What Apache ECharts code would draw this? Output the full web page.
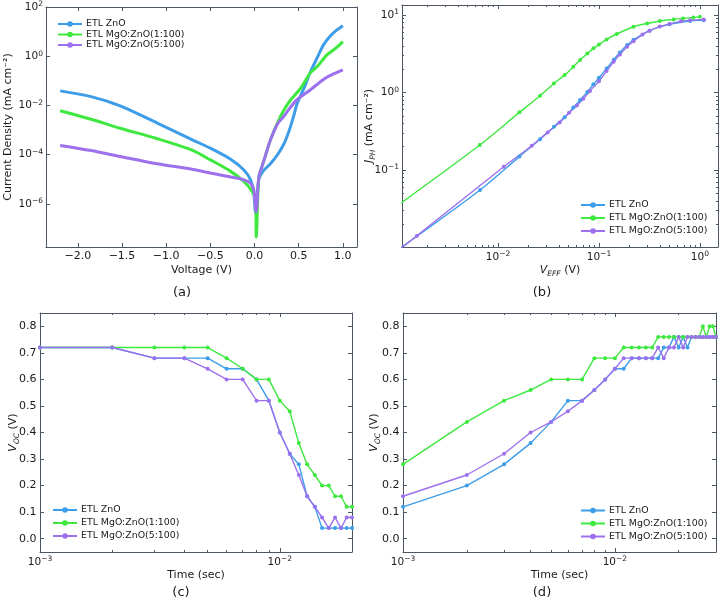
<!DOCTYPE html>
<html><head><meta charset="utf-8">
<script src="https://cdn.jsdelivr.net/npm/echarts@6/dist/echarts.min.js"></script>
<style>html,body{margin:0;padding:0;background:#fff}#c{width:723px;height:603px}</style>
</head><body><div id="c"></div>
<script>
const seriesNames = ['ETL ZnO', 'ETL MgO:ZnO(1:100)', 'ETL MgO:ZnO(5:100)'];
const colors = ['#3d9de8', '#3fe83f', '#9d70ee'];

// (a) J-V (voltage V, current density mA cm^-2)
const aVoltZnO = [-2.2,-1.85,-1.52,-1.1,-0.72,-0.5,-0.27,-0.12,-0.045,-0.008,0.011,0.049,0.1,0.18,0.26,0.33,0.37,0.41,0.45,0.48,0.56,0.63,0.71,0.78,0.86,0.93,1.0];
const aJZnO = [0.040,0.0234,0.0098,0.00195,4.3e-4,1.86e-4,6.6e-5,2.4e-5,9.5e-6,2.7e-6,4.6e-7,1.0e-5,2.2e-5,4.3e-5,1.0e-4,2.6e-4,5.8e-4,1.5e-3,4.6e-3,0.0115,0.051,0.224,0.9,2.95,7.1,12.0,18.2];
const aVoltMg1 = [-2.2,-1.85,-1.52,-1.1,-0.72,-0.5,-0.27,-0.12,-0.027,0.011,0.02,0.049,0.087,0.13,0.18,0.26,0.33,0.41,0.52,0.63,0.71,0.82,0.92,1.0];
const aJMg1 = [6.2e-3,2.8e-3,1.2e-3,4.5e-4,1.6e-4,6.2e-5,2.1e-5,8.1e-6,3.2e-6,1.45e-6,4.4e-8,1.26e-5,3.5e-5,1.1e-4,4.0e-4,2.0e-3,6.3e-3,0.0174,0.05,0.21,0.39,1.17,2.19,4.07];
const aVoltMg5 = [-2.2,-1.85,-1.52,-1.1,-0.72,-0.5,-0.27,-0.12,-0.045,-0.008,0.019,0.049,0.087,0.13,0.18,0.26,0.33,0.41,0.48,0.63,0.8,0.9,1.0];
const aJMg5 = [2.4e-4,1.48e-4,8.5e-5,4.3e-5,2.6e-5,1.8e-5,1.23e-5,9.5e-6,6.9e-6,3.7e-6,4.7e-7,1.26e-5,3.5e-5,1.1e-4,4.0e-4,1.8e-3,3.6e-3,8.9e-3,0.0174,0.0437,0.132,0.2,0.288];

// (b) Jph vs Veff
const bVeffZnO = [0.0011,0.00664,0.0163,0.0261,0.0358,0.0457,0.0557,0.065,0.0767,0.088,0.1,0.119,0.14,0.161,0.19,0.22,0.317,0.5,0.8,1.09];
const bJZnO = [0.0100,0.0552,0.149,0.249,0.362,0.48,0.64,0.8,1.02,1.28,1.55,2.05,2.65,3.3,4.1,4.8,6.3,7.6,8.4,8.6];
const bVeffMg1 = [0.0011,0.0066,0.0163,0.0261,0.0358,0.0457,0.0557,0.065,0.0767,0.0882,0.1,0.119,0.15,0.22,0.3,0.4,0.55,0.68,0.86,1.0];
const bJMg1 = [0.0376,0.21,0.555,0.91,1.31,1.68,2.15,2.63,3.2,3.72,4.17,4.85,5.7,7.07,7.8,8.4,8.8,9.06,9.33,9.5];
const bVeffMg5 = [0.0011,0.00157,0.0114,0.0216,0.031,0.0408,0.0506,0.0604,0.07,0.0815,0.1,0.119,0.14,0.161,0.19,0.22,0.27,0.317,0.4,0.5,0.65,0.8,1.09];
const bJMg5 = [0.0098,0.0141,0.110,0.206,0.306,0.41,0.55,0.68,0.83,1.05,1.4,1.9,2.5,3.1,3.9,4.6,5.6,6.3,7.1,7.7,8.3,8.6,8.8];

// (c) Voc decay
const cTime = [0.001,0.002,0.003,0.004,0.005,0.006,0.007,0.008,0.009,0.010,0.011,0.012,0.013,0.014,0.015,0.016,0.017,0.018,0.019,0.020];
const cZnO = [0.72,0.72,0.68,0.68,0.68,0.64,0.64,0.60,0.52,0.40,0.32,0.28,0.16,0.12,0.04,0.04,0.04,0.04,0.04,0.04];
const cMg1 = [0.72,0.72,0.72,0.72,0.72,0.68,0.64,0.60,0.60,0.52,0.48,0.36,0.28,0.24,0.20,0.20,0.16,0.16,0.12,0.12];
const cMg5 = [0.72,0.72,0.68,0.68,0.64,0.60,0.60,0.52,0.52,0.40,0.32,0.24,0.16,0.12,0.08,0.04,0.08,0.04,0.08,0.08];

// (d) Voc rise
const dTime = [0.001,0.002,0.003,0.004,0.005,0.006,0.007,0.008,0.009,0.010,0.011,0.012,0.013,0.014,0.015,0.016,0.017,0.018,0.019,0.020,0.021,0.022,0.023,0.024,0.025,0.026,0.027,0.028,0.029,0.030];
const dZnO = [0.12,0.20,0.28,0.36,0.44,0.52,0.52,0.56,0.60,0.64,0.64,0.68,0.68,0.68,0.68,0.68,0.72,0.72,0.76,0.72,0.76,0.72,0.76,0.76,0.76,0.76,0.76,0.76,0.76,0.76];
const dMg1 = [0.28,0.44,0.52,0.56,0.60,0.60,0.60,0.68,0.68,0.68,0.72,0.72,0.72,0.72,0.72,0.76,0.76,0.76,0.76,0.76,0.76,0.76,0.76,0.76,0.76,0.80,0.76,0.80,0.80,0.76];
const dMg5 = [0.16,0.24,0.32,0.40,0.44,0.48,0.52,0.56,0.60,0.64,0.68,0.68,0.68,0.68,0.68,0.72,0.68,0.72,0.72,0.76,0.72,0.76,0.76,0.76,0.76,0.76,0.76,0.76,0.76,0.76];

// tick values
const aXTicks = [-2.0,-1.5,-1.0,-0.5,0.0,0.5,1.0];
const aYTicks = [1e-6,1e-4,1e-2,1,100];
const bXTicks = [0.01,0.1,1];
const bXMinor = [0.002,0.003,0.004,0.005,0.006,0.007,0.008,0.009,0.02,0.03,0.04,0.05,0.06,0.07,0.08,0.09,0.2,0.3,0.4,0.5,0.6,0.7,0.8,0.9];
const bYTicks = [0.1,1,10];
const bYMinor = [0.02,0.03,0.04,0.05,0.06,0.07,0.08,0.09,0.2,0.3,0.4,0.5,0.6,0.7,0.8,0.9,2,3,4,5,6,7,8,9];
const cdXTicks = [0.001,0.01];
const cXMinor = [0.002,0.003,0.004,0.005,0.006,0.007,0.008,0.009,0.02];
const dXMinor = [0.002,0.003,0.004,0.005,0.006,0.007,0.008,0.009,0.02,0.03];
const cdYTicks = [0.0,0.1,0.2,0.3,0.4,0.5,0.6,0.7,0.8];

const FRAME = '#4d5663';
const TXT = '#1a1a1a';
const FONT = 'DejaVu Sans';

function supFmt(v) {
  const e = Math.round(Math.log10(v));
  return '{b|10}{s|' + (e < 0 ? '\u2212' + (-e) : String(e)) + '}';
}
function linFmt(v) { return v.toFixed(1).replace('-', '\u2212'); }
const labelRich = {
  b: { fontSize: 10.5, fontFamily: FONT, color: TXT, lineHeight: 14 },
  s: { fontSize: 7.5, fontFamily: FONT, color: TXT, lineHeight: 7, verticalAlign: 'top' }
};
const nameRich = {
  i: { fontSize: 11, fontFamily: FONT, color: TXT, fontStyle: 'italic', lineHeight: 15 },
  sub: { fontSize: 7.5, fontFamily: FONT, color: TXT, fontStyle: 'italic', lineHeight: 8, verticalAlign: 'bottom' }
};

const xAxes = [], yAxes = [];
function addAxes(list, dim, gi, o) {
  const pos = dim === 'x' ? ['bottom', 'top'] : ['left', 'right'];
  const common = { type: o.type, min: o.min, max: o.max, gridIndex: gi, splitLine: { show: false } };
  const line = { show: true, onZero: false, lineStyle: { color: FRAME, width: 1 } };
  const idx = list.length;
  list.push(Object.assign({}, common, {
    position: pos[0], axisLine: line,
    axisTick: { show: true, inside: true, length: 4, customValues: o.major, lineStyle: { color: FRAME } },
    axisLabel: { show: true, customValues: o.major, formatter: o.fmt, color: TXT, fontSize: 11, fontFamily: FONT, margin: o.margin, rich: labelRich },
    name: o.name, nameLocation: 'middle', nameGap: o.nameGap, nameMoveOverlap: false,
    nameTextStyle: { fontSize: 11, fontFamily: FONT, color: TXT, lineHeight: 15, rich: nameRich }
  }));
  list.push(Object.assign({}, common, {
    position: pos[1], axisLine: line,
    axisTick: { show: true, inside: true, length: 4, customValues: o.major, lineStyle: { color: FRAME } },
    axisLabel: { show: false }
  }));
  if (o.minor) {
    pos.forEach(p => list.push(Object.assign({}, common, {
      position: p, axisLine: { show: false, onZero: false },
      axisTick: { show: true, inside: true, length: 2, customValues: o.minor, lineStyle: { color: FRAME } },
      axisLabel: { show: false }
    })));
  }
  return idx;
}

const ax = {
  x0: addAxes(xAxes, 'x', 0, { type: 'value', min: -2.36, max: 1.16, major: aXTicks, fmt: linFmt, margin: 4, name: 'Voltage (V)', nameGap: 16 }),
  y0: addAxes(yAxes, 'y', 0, { type: 'log', min: 1.74e-8, max: 104.7, major: aYTicks, fmt: supFmt, margin: 3, name: 'Current Density (mA cm\u207B\u00B2)', nameGap: 30 }),
  x1: addAxes(xAxes, 'x', 1, { type: 'log', min: 0.00112, max: 1.51, major: bXTicks, minor: bXMinor, fmt: supFmt, margin: 3, name: '{i|V}{sub|EFF} (V)', nameGap: 16 }),
  y1: addAxes(yAxes, 'y', 1, { type: 'log', min: 0.01014, max: 13.5, major: bYTicks, minor: bYMinor, fmt: supFmt, margin: 3, name: '{i|J}{sub|PH} (mA cm\u207B\u00B2)', nameGap: 25 }),
  x2: addAxes(xAxes, 'x', 2, { type: 'log', min: 0.001, max: 0.02, major: cdXTicks, minor: cXMinor, fmt: supFmt, margin: 3, name: 'Time (sec)', nameGap: 16 }),
  y2: addAxes(yAxes, 'y', 2, { type: 'value', min: -0.05, max: 0.85, major: cdYTicks, fmt: linFmt, margin: 3.5, name: '{i|V}{sub|OC} (V)', nameGap: 19 }),
  x3: addAxes(xAxes, 'x', 3, { type: 'log', min: 0.001, max: 0.03, major: cdXTicks, minor: dXMinor, fmt: supFmt, margin: 3, name: 'Time (sec)', nameGap: 16 }),
  y3: addAxes(yAxes, 'y', 3, { type: 'value', min: -0.05, max: 0.85, major: cdYTicks, fmt: linFmt, margin: 3.5, name: '{i|V}{sub|OC} (V)', nameGap: 21 })
};

function mk(k, xi, yi, xs, ys, o) {
  return Object.assign({
    type: 'line', name: seriesNames[k], xAxisIndex: xi, yAxisIndex: yi,
    data: xs.map((x, i) => [x, ys[i]]),
    lineStyle: { color: colors[k], width: 1.4 }, itemStyle: { color: colors[k] },
    symbol: 'circle', symbolSize: 4, showSymbol: true, clip: true, animation: false,
    emphasis: { disabled: true }
  }, o || {});
}
function aStyle(k) { return { lineStyle: { color: colors[k], width: 3 }, showSymbol: false, smooth: 0.3 }; }

const series = [
  mk(0, ax.x0, ax.y0, aVoltZnO, aJZnO, aStyle(0)),
  mk(1, ax.x0, ax.y0, aVoltMg1, aJMg1, aStyle(1)),
  mk(2, ax.x0, ax.y0, aVoltMg5, aJMg5, aStyle(2)),
  mk(0, ax.x1, ax.y1, bVeffZnO, bJZnO, { smooth: 0.3 }),
  mk(1, ax.x1, ax.y1, bVeffMg1, bJMg1, { smooth: 0.3 }),
  mk(2, ax.x1, ax.y1, bVeffMg5, bJMg5, { smooth: 0.3 }),
  mk(0, ax.x2, ax.y2, cTime, cZnO),
  mk(1, ax.x2, ax.y2, cTime, cMg1),
  mk(2, ax.x2, ax.y2, cTime, cMg5),
  mk(0, ax.x3, ax.y3, dTime, dZnO),
  mk(1, ax.x3, ax.y3, dTime, dMg1),
  mk(2, ax.x3, ax.y3, dTime, dMg5)
];

function legend(left, top, gap) {
  return { orient: 'vertical', left: left, top: top, itemWidth: 24, itemHeight: 7, itemGap: gap,
    textStyle: { fontSize: 9.4, color: TXT, fontFamily: FONT, padding: [0, 0, 0, -1] },
    data: seriesNames, selectedMode: false };
}

const chart = echarts.init(document.getElementById('c'), null, { renderer: 'canvas' });
chart.setOption({
  backgroundColor: '#fff',
  animation: false,
  textStyle: { fontFamily: FONT },
  grid: [
    { left: 44, top: 7, width: 313, height: 240 },
    { left: 402, top: 5, width: 316, height: 242 },
    { left: 40, top: 313, width: 312, height: 239 },
    { left: 403, top: 313, width: 313, height: 239 }
  ],
  xAxis: xAxes,
  yAxis: yAxes,
  legend: [legend(52, 14.5, 1.5), legend(575, 195.5, 4), legend(47, 500.5, 4), legend(575, 501, 4)],
  graphic: [
    ['(a)', 182, 293], ['(b)', 542, 293], ['(c)', 181, 593], ['(d)', 542, 593]
  ].map(t => ({ type: 'text', x: t[1], y: t[2], style: { text: t[0], fontSize: 13, fontFamily: FONT, fill: TXT, align: 'center', verticalAlign: 'middle' } })),
  series: series
});
</script>
</body></html>
